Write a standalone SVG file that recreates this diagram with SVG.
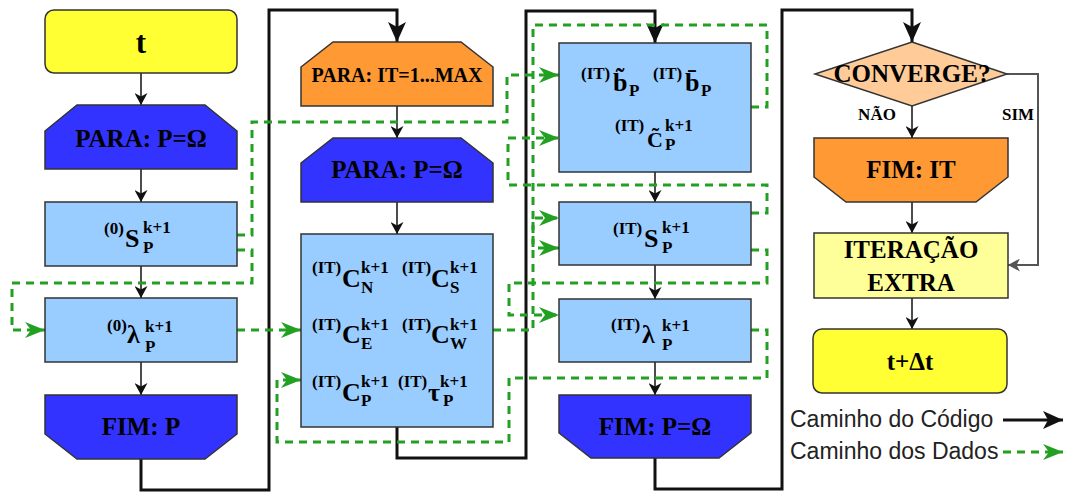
<svg xmlns="http://www.w3.org/2000/svg" width="1067" height="495" viewBox="0 0 1067 495">
<defs>
<style>
.n{stroke:#333;stroke-width:1.5}
.yl{fill:#ffff33}.bl{fill:#3333ff}.lb{fill:#99ccff}.or{fill:#ff9933}.pc{fill:#ffcc99}.py{fill:#ffff99}
.t{font-family:"Liberation Serif","DejaVu Serif",serif;font-weight:bold;fill:#000}
.c{text-anchor:middle}
.L{font-size:25px}.M{font-size:26px}.s{font-size:17px}.sub{font-size:17px}
.code{fill:none;stroke:#111;stroke-width:3;marker-end:url(#aK)}
.flow{fill:none;stroke:#111;stroke-width:1.5;marker-end:url(#aT)}
.data{fill:none;stroke:#22a022;stroke-width:3;stroke-dasharray:8 6;marker-end:url(#aG)}
.leg{font-family:"Liberation Sans",Arial,sans-serif;font-size:23px;fill:#222}
</style>
<marker id="aT" markerUnits="userSpaceOnUse" markerWidth="12" markerHeight="13" refX="12" refY="6.5" orient="auto" viewBox="0 0 12 13"><path d="M0,0 L12,6.5 L0,13 L3.5,6.5 z" fill="#111"/></marker>
<marker id="aS" markerUnits="userSpaceOnUse" markerWidth="12" markerHeight="13" refX="12" refY="6.5" orient="auto" viewBox="0 0 12 13"><path d="M0,0 L12,6.5 L0,13 L3.5,6.5 z" fill="#555"/></marker>
<marker id="aK" markerUnits="userSpaceOnUse" markerWidth="20" markerHeight="18" refX="20" refY="9" orient="auto" viewBox="0 0 20 18"><path d="M0,0 L20,9 L0,18 L5,9 z" fill="#111"/></marker>
<marker id="aG" markerUnits="userSpaceOnUse" markerWidth="20" markerHeight="16" refX="20" refY="8" orient="auto" viewBox="0 0 20 16"><path d="M0,0 L20,8 L0,16 L6,8 z" fill="#22a022"/></marker>
</defs>
<rect width="1067" height="495" fill="#fff"/>

<g id="connectors">
<path class="code" d="M141,459 V490 H269 V10 H397 V42"/>
<path class="code" d="M397,427 V458 H526 V11 H655 V43"/>
<path class="code" d="M655,458 V489 H782 V10 H912 V42"/>
<path class="flow" d="M141,73 V105"/>
<path class="flow" d="M141,169 V202"/>
<path class="flow" d="M141,266 V298"/>
<path class="flow" d="M141,362 V395"/>
<path class="flow" d="M397,106 V138"/>
<path class="flow" d="M397,202 V234"/>
<path class="flow" d="M655,172 V202"/>
<path class="flow" d="M655,265 V299"/>
<path class="flow" d="M655,362 V395"/>
<path class="flow" d="M912,106 V138"/>
<path class="flow" d="M912,202 V233"/>
<path class="flow" d="M912,298 V329"/>
<path d="M1007,74 H1038 V265 H1008" fill="none" stroke="#555" stroke-width="2" marker-end="url(#aS)"/>
<path class="data" d="M237,235 H252 V122 H507 V75 H559"/>
<path class="data" d="M237,250 H252 V283 H12 V330 H45"/>
<path class="data" d="M237,330 H301"/>
<path class="data" d="M751,330 H767 V378 H509 V442 H277 V380 H301"/>
<path class="data" d="M751,250 H767 V283 H509 V315 H559"/>
<path class="data" d="M493,330 H533 V218 H559"/>
<path class="data" d="M751,107 H767 V25 H533 V248 H559"/>
<path class="data" d="M751,213 H767 V185 H508 V138 H559"/>
</g>

<g id="n_t"><rect class="n yl" x="45" y="10" width="192" height="63" rx="9"/><text class="t c" x="141" y="53" font-size="31">t</text></g>
<g id="n_para1"><polygon class="n bl" points="45,131 77,105 205,105 237,131 237,169 45,169"/><text class="t c L" x="141" y="147">PARA: P=Ω</text></g>
<g id="n_s0">
<rect class="n lb" x="45" y="202" width="192" height="64"/>
<text class="t s" x="104" y="234">(0)</text><text class="t M" x="125" y="247">S</text><text class="t s" x="143" y="233">k+1</text><text class="t sub" x="143" y="253">P</text>
</g>
<g id="n_l0">
<rect class="n lb" x="45" y="298" width="192" height="64"/>
<text class="t s" x="107" y="331">(0)</text><text class="t M" x="127" y="343">λ</text><text class="t s" x="145" y="332">k+1</text><text class="t sub" x="145" y="352">P</text>
</g>
<g id="n_fimp"><polygon class="n bl" points="45,395 237,395 237,434 205,459 77,459 45,434"/><text class="t c L" x="141" y="435">FIM: P</text></g>

<g id="n_parait"><polygon class="n or" points="301,67 333,42 461,42 493,67 493,106 301,106"/><text class="t c" x="397" y="82" font-size="20">PARA: IT=1...MAX</text></g>
<g id="n_para2"><polygon class="n bl" points="301,163 333,138 461,138 493,163 493,202 301,202"/><text class="t c L" x="397" y="178">PARA: P=Ω</text></g>
<g id="n_coef">
<rect class="n lb" x="301" y="234" width="192" height="193"/>
<text class="t s" x="312" y="273">(IT)</text><text class="t M" x="342" y="287">C</text><text class="t s" x="361" y="273">k+1</text><text class="t sub" x="361" y="293">N</text>
<text class="t s" x="402" y="273">(IT)</text><text class="t M" x="431" y="287">C</text><text class="t s" x="450" y="273">k+1</text><text class="t sub" x="450" y="293">S</text>
<text class="t s" x="312" y="330">(IT)</text><text class="t M" x="342" y="343">C</text><text class="t s" x="361" y="330">k+1</text><text class="t sub" x="361" y="349">E</text>
<text class="t s" x="402" y="330">(IT)</text><text class="t M" x="431" y="343">C</text><text class="t s" x="450" y="330">k+1</text><text class="t sub" x="450" y="349">W</text>
<text class="t s" x="312" y="387">(IT)</text><text class="t M" x="342" y="401">C</text><text class="t s" x="361" y="387">k+1</text><text class="t sub" x="361" y="406">P</text>
<text class="t s" x="398" y="387">(IT)</text><text class="t M" x="428" y="401">τ</text><text class="t s" x="440" y="387">k+1</text><text class="t sub" x="443" y="406">P</text>
</g>

<g id="n_b">
<rect class="n lb" x="559" y="43" width="192" height="129"/>
<text class="t s" x="581" y="79">(IT)</text><text class="t M" x="613" y="91">b̃</text><text class="t sub" x="629" y="96">P</text>
<text class="t s" x="653" y="79">(IT)</text><text class="t M" x="685" y="91">b̄</text><text class="t sub" x="701" y="96">P</text>
<text class="t s" x="615" y="131">(IT)</text><text class="t" x="647" y="147" font-size="22">C̃</text><text class="t s" x="665" y="131">k+1</text><text class="t sub" x="665" y="150">P</text>
</g>
<g id="n_sit">
<rect class="n lb" x="559" y="202" width="192" height="63"/>
<text class="t s" x="613" y="234">(IT)</text><text class="t M" x="644" y="247">S</text><text class="t s" x="662" y="233">k+1</text><text class="t sub" x="662" y="253">P</text>
</g>
<g id="n_lit">
<rect class="n lb" x="559" y="299" width="192" height="63"/>
<text class="t s" x="611" y="330">(IT)</text><text class="t M" x="642" y="343">λ</text><text class="t s" x="662" y="331">k+1</text><text class="t sub" x="662" y="350">P</text>
</g>
<g id="n_fimp2"><polygon class="n bl" points="559,395 751,395 751,433 719,458 591,458 559,433"/><text class="t c L" x="655" y="435">FIM: P=Ω</text></g>

<g id="n_conv"><polygon class="n pc" points="912,42 1007,74 912,106 815,74"/><text class="t c L" x="912" y="82">CONVERGE?</text></g>
<g id="n_nao"><text class="t c" x="877" y="120" font-size="17">NÃO</text></g>
<g id="n_sim"><text class="t c" x="1018" y="120" font-size="17">SIM</text></g>
<g id="n_fimit"><polygon class="n or" points="814,138 1008,138 1008,177 976,202 846,202 814,177"/><text class="t c L" x="911" y="178">FIM: IT</text></g>
<g id="n_extra"><rect class="n py" x="814" y="233" width="194" height="65"/><text class="t c L" x="911" y="258">ITERAÇÃO</text><text class="t c L" x="911" y="291">EXTRA</text></g>
<g id="n_tdt"><rect class="n yl" x="813" y="329" width="194" height="64" rx="9"/><text class="t c L" x="910" y="370">t+Δt</text></g>

<g id="legend">
<text class="leg" x="790" y="427">Caminho do Código</text>
<text class="leg" x="790" y="459">Caminho dos Dados</text>
<path class="code" d="M1003,420 H1063"/>
<path class="data" d="M1003,452 H1063"/>
</g>
</svg>
